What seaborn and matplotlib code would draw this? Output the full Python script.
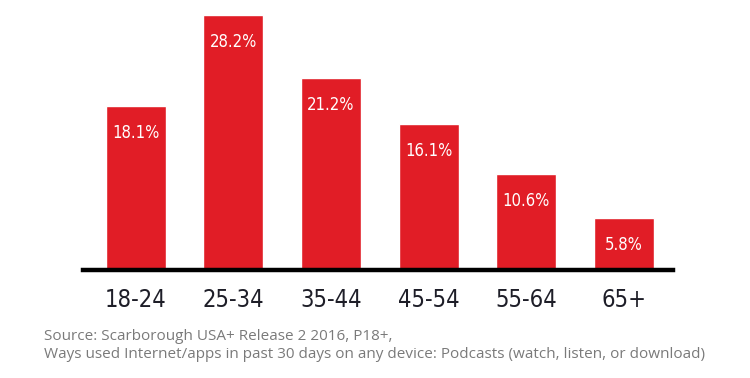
#!/bin/env python3
##########################################
#   Podcast usage by age group plot      #
##########################################
import matplotlib
matplotlib.use("Agg")
import matplotlib.pyplot as plt
import seaborn as sns
import pandas as pd

##Data##
age_groups = ['18-24', '25-34', '35-44', '45-54', '55-64', '65+']
pct_values = [18.1, 28.2, 21.2, 16.1, 10.6, 5.8]
source_lines = ['Source: Scarborough USA+ Release 2 2016, P18+,',
                'Ways used Internet/apps in past 30 days on any device: Podcasts (watch, listen, or download)']

df = pd.DataFrame({'age': age_groups, 'pct': pct_values})

sns.set_style('white')
bar_red = '#E11D26'

fig = plt.figure(figsize=(7.5, 3.78), dpi=100)
ax = fig.add_axes([83/750, (378-270)/378, (673-83)/750, 255/378])

sns.barplot(data=df, x='age', y='pct', color=bar_red, width=0.614,
            saturation=1, ax=ax)

ax.set_xlim(-0.54, 5.5)
ax.set_ylim(0, 28.2)

#value labels inside the bars
for i, v in enumerate(pct_values):
    ax.annotate("{0}%".format(v), (i, v), xytext=(0, -27),
                textcoords='offset pixels',
                ha='center', va='center', color='white', fontsize=12,
                family='DejaVu Sans', fontstretch='condensed')

#axis styling
for s in ['top', 'right', 'left']:
    ax.spines[s].set_visible(False)
ax.spines['bottom'].set_linewidth(3.2)
ax.spines['bottom'].set_color('black')
ax.set_yticks([])
ax.set_xlabel('')
ax.set_ylabel('')
ax.tick_params(axis='x', length=0, pad=13, labelsize=17, labelcolor='#1e1e28')
for lab in ax.get_xticklabels():
    lab.set_fontstretch('condensed')

#source note
fig.text(44/750, 1 - 336/378, source_lines[0], fontsize=11, color='#7a7a7a',
         family='Open Sans', va='center')
fig.text(44/750, 1 - 355/378, source_lines[1], fontsize=11, color='#7a7a7a',
         family='Open Sans', va='center')

plt.savefig('out.png', dpi=100)
